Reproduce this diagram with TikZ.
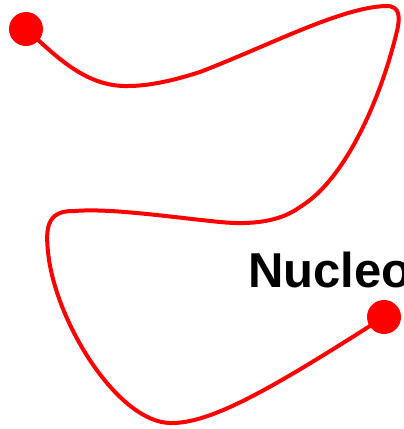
\documentclass[tikz,border=0pt]{standalone}
\usepackage{fontspec}
\setmainfont{Liberation Sans}
\definecolor{pured}{RGB}{255,0,0}
\begin{document}
\begin{tikzpicture}[x=1pt,y=-1pt,
  dot/.style={circle,fill=pured,draw=none,minimum size=34pt,inner sep=0pt},
  strand/.style={draw=pured,line width=4pt,line cap=round,line join=round},
  lbl/.style={anchor=base west,inner sep=0pt,font=\fontsize{49}{49}\selectfont\bfseries}]
\useasboundingbox (0,0) rectangle (404,429);
\node[dot] (a) at (26,29) {};
\node[dot] (b) at (384,317) {};
\draw[strand] (a.center) .. controls (55,55) and (85,87) .. (128,86)
  .. controls (150,86) and (175,80) .. (200,72)
  .. controls (270,45) and (340,8) .. (385,6)
  .. controls (402,5) and (400,20) .. (396,35)
  .. controls (380,100) and (345,180) .. (300,207)
  .. controls (280,222) and (250,225) .. (220,222)
  .. controls (170,217) and (110,208) .. (75,211)
  .. controls (45,210) and (45,230) .. (49,260)
  .. controls (60,330) and (120,422) .. (170,423)
  .. controls (210,424) and (270,390) .. (b.center);
\node[lbl] (t) at (247.8,287) {Nucleo};
\end{tikzpicture}
\end{document}
